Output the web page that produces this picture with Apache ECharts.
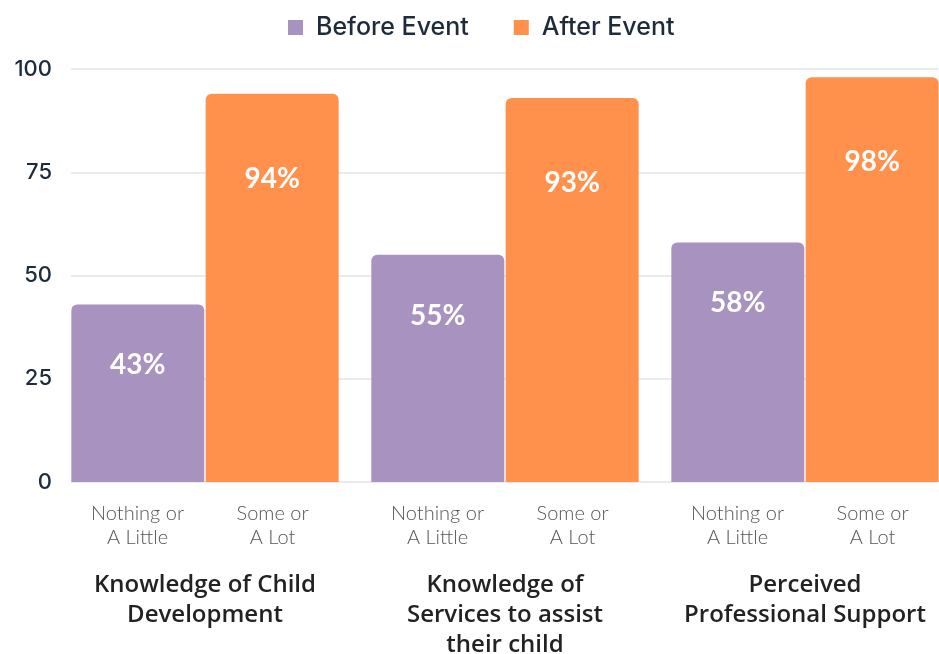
<!DOCTYPE html>
<html>
<head>
<meta charset="utf-8">
<script src="https://cdn.jsdelivr.net/npm/echarts@6/dist/echarts.min.js"></script>
<style>
  html,body{margin:0;padding:0;background:#fff;}
  #box{width:939px;height:654px;}
</style>
</head>
<body>
<div id="box"></div>
<script>
// data
var groups = ['Knowledge of Child\nDevelopment', 'Knowledge of\nServices to assist\ntheir child', 'Perceived\nProfessional Support'];
var subLabels = [['Nothing or', 'A Little'], ['Some or', 'A Lot']];
var seriesNames = ['Before Event', 'After Event'];
var before = [43, 55, 58];
var after = [94, 93, 98];
var yMin = 0, yMax = 100, yStep = 25;

var purple = '#a892bf';
var orange = '#ff914d';

var labelFormatter = function (v) {
  var l1 = '{s|' + subLabels[0][0] + '}{g|}{s|' + subLabels[1][0] + '}';
  var l2 = '{s|' + subLabels[0][1] + '}{g|}{s|' + subLabels[1][1] + '}';
  return l1 + '\n' + l2 + '\n{sp| }\n{b|' + v + '}';
};

var barLabel = function (dist) {
  return {
    show: true,
    position: 'insideTop',
    distance: dist,
    formatter: '{c}%',
    fontFamily: 'Lato',
    fontWeight: 'bold',
    fontSize: 28,
    color: '#fff'
  };
};

var mychart = echarts.init(document.getElementById('box'));
var option = {
  animation: false,
  legend: {
    data: seriesNames,
    top: 10,
    left: 283,
    icon: 'rect',
    itemWidth: 15,
    itemHeight: 15,
    itemGap: 45,
    textStyle: {
      fontFamily: 'Inter',
      fontSize: 25,
      fontWeight: 500,
      letterSpacing: 0.3,
      color: '#1d2b3a',
      padding: [0, 0, 0, 8]
    }
  },
  grid: [
    { left: 71, right: 1, top: 69, height: 413 },
    { left: 55, width: 900, top: 69, height: 413, outerBoundsMode: 'none' }
  ],
  xAxis: [
    { gridIndex: 0, type: 'value', show: false },
    {
      gridIndex: 1,
      type: 'category',
      data: groups,
      axisLine: { show: false },
      axisTick: { show: false },
      axisLabel: {
        interval: 0,
        margin: 20,
        formatter: labelFormatter,
        rich: {
          s: { width: 133, align: 'center', fontFamily: 'Lato', fontWeight: 300, fontSize: 20, letterSpacing: 0.5, lineHeight: 24, color: '#555' },
          g: { width: 2 },
          sp: { fontSize: 1, lineHeight: 20 },
          b: { fontFamily: 'Open Sans', fontWeight: 600, fontSize: 24, letterSpacing: 0.5, lineHeight: 30, color: '#222', align: 'center' }
        }
      }
    }
  ],
  yAxis: [
    {
      gridIndex: 0,
      type: 'value',
      min: yMin,
      max: yMax,
      interval: yStep,
      axisLine: { show: false },
      axisTick: { show: false },
      axisLabel: {
        margin: 19,
        fontFamily: 'Inter',
        fontSize: 22,
        fontWeight: 500,
        letterSpacing: 1,
        color: '#1d2b3a'
      },
      splitLine: { lineStyle: { color: '#e2e4e8', width: 1.5 } }
    },
    { gridIndex: 1, type: 'value', min: yMin, max: yMax, show: false }
  ],
  series: [
    {
      name: seriesNames[0],
      type: 'bar',
      xAxisIndex: 1,
      yAxisIndex: 1,
      data: before,
      barWidth: 133,
      barGap: '1%',
      itemStyle: { color: purple, borderRadius: [6, 6, 0, 0] },
      label: barLabel(47)
    },
    {
      name: seriesNames[1],
      type: 'bar',
      xAxisIndex: 1,
      yAxisIndex: 1,
      data: after,
      barWidth: 133,
      barGap: '1%',
      itemStyle: { color: orange, borderRadius: [6, 6, 0, 0] },
      label: barLabel(71)
    }
  ]
};
mychart.setOption(option);
</script>
</body>
</html>
